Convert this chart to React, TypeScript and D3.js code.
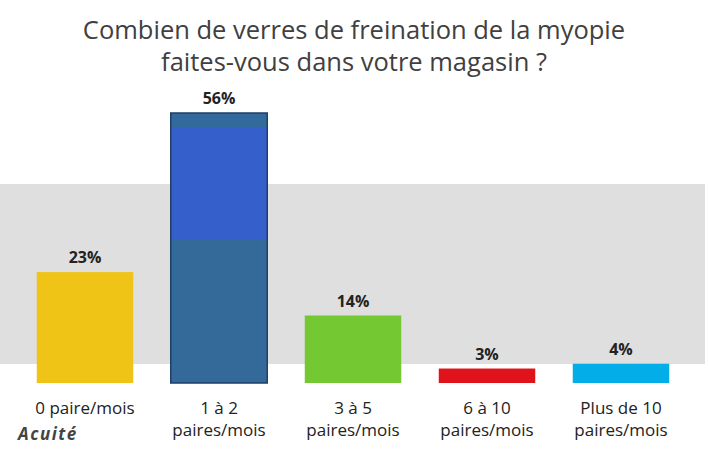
import * as d3 from "d3";

const categories = ["0 paire/mois", "1 à 2|paires/mois", "3 à 5|paires/mois", "6 à 10|paires/mois", "Plus de 10|paires/mois"];
const values = [23, 56, 14, 3, 4];
const colors = ["#efc416", "url(#blueBar)", "#74c932", "#e0121a", "#03ade8"];
const titleLines = ["Combien de verres de freination de la myopie", "faites-vous dans votre magasin ?"];

const width = 708;
const height = 450;

export default function App() {
  const x = d3.scaleBand()
    .domain(categories)
    .range([18, 688])
    .paddingInner(0.28)
    .paddingOuter(0.14);
  const y = d3.scaleLinear()
    .domain([0, 56])
    .range([383, 113]);

  return (
    <svg width={width} height={height} style={{ position: "absolute", left: 0, top: 0, background: "#fff" }}
      fontFamily="'Open Sans', sans-serif">
      <defs>
        <linearGradient id="blueBar" x1="0" y1="0" x2="0" y2="1">
          <stop offset="0" stopColor="#336a9c" />
          <stop offset="0.05" stopColor="#336a9c" />
          <stop offset="0.05" stopColor="#355fcb" />
          <stop offset="0.47" stopColor="#355fcb" />
          <stop offset="0.47" stopColor="#336a9a" />
          <stop offset="1" stopColor="#336a9a" />
        </linearGradient>
      </defs>
      <rect x={0} y={184} width={705} height={180} fill="#dfdfdf" />
      {titleLines.map((t, i) => (
        <text key={i} x={354} y={39 + i * 32} textAnchor="middle" fontSize={25.5} fill="#404040">{t}</text>
      ))}
      {categories.map((c, i) => {
        const bx = x(c)!;
        const bw = x.bandwidth();
        const cx = bx + bw / 2;
        return (
          <g key={c}>
            <rect x={bx} y={y(values[i])} width={bw} height={y(0) - y(values[i])} fill={colors[i]}
              stroke={i === 1 ? "#1f3f66" : "none"} strokeWidth={i === 1 ? 1.5 : 0} />
            <text x={cx} y={y(values[i]) - 9} textAnchor="middle" fontSize={16} fontWeight="bold" fill="#222">
              {values[i]}%
            </text>
            {c.split("|").map((line, j) => (
              <text key={j} x={cx} y={414 + j * 22} textAnchor="middle" fontSize={17} fill="#222">{line}</text>
            ))}
          </g>
        );
      })}
      <text x={18} y={440} fontSize={17} fontWeight="bold" fontStyle="italic" letterSpacing={1.5} fill="#444">Acuité</text>
    </svg>
  );
}
